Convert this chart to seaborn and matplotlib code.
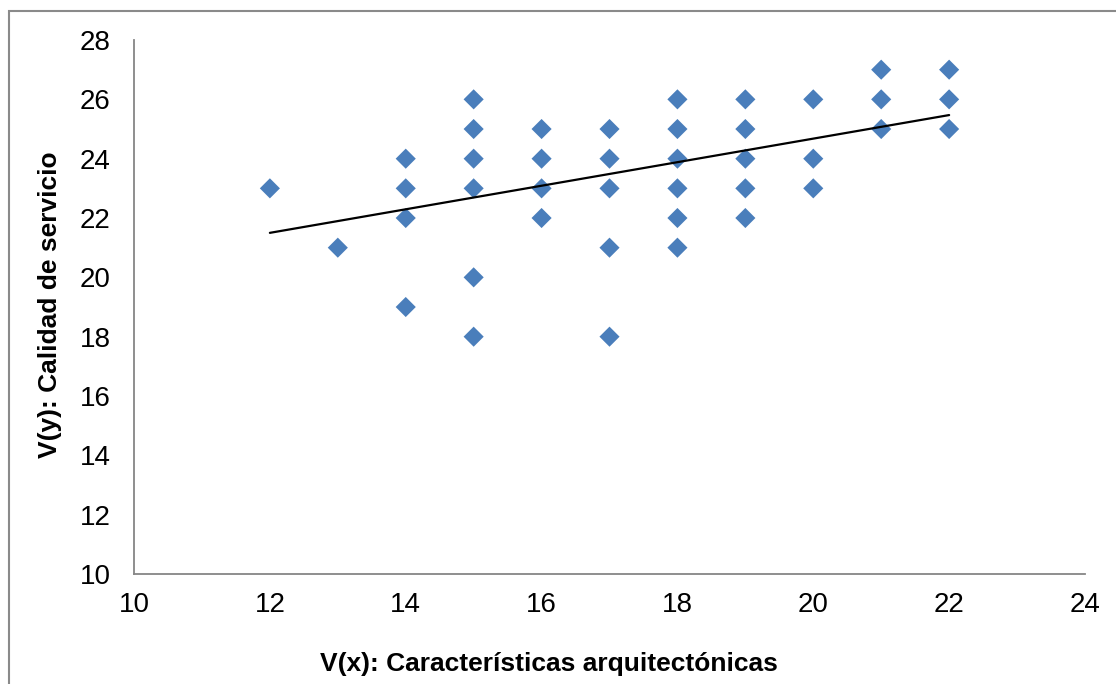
import matplotlib
matplotlib.use("Agg")
import matplotlib.pyplot as plt
import seaborn as sns
import pandas as pd

# scatter values
x_vals = [12,
          13,
          14, 14, 14, 14,
          15, 15, 15, 15, 15, 15,
          16, 16, 16, 16,
          17, 17, 17, 17, 17,
          18, 18, 18, 18, 18, 18,
          19, 19, 19, 19, 19,
          20, 20, 20,
          21, 21, 21,
          22, 22, 22]
y_vals = [23,
          21,
          24, 23, 22, 19,
          26, 25, 24, 23, 20, 18,
          25, 24, 23, 22,
          25, 24, 23, 21, 18,
          26, 25, 24, 23, 22, 21,
          26, 25, 24, 23, 22,
          26, 24, 23,
          27, 26, 25,
          27, 26, 25]

# linear trendline end points
trend_x = [12, 22]
trend_y = [21.5, 25.47]

x_ticks = [10, 12, 14, 16, 18, 20, 22, 24]
y_ticks = [10, 12, 14, 16, 18, 20, 22, 24, 26, 28]

sns.set_theme(style="white")
plt.rcParams['font.family'] = ['Liberation Sans', 'DejaVu Sans']
plt.rcParams['text.color'] = 'black'
plt.rcParams['axes.labelcolor'] = 'black'

df = pd.DataFrame({'x': x_vals, 'y': y_vals})
trend = pd.DataFrame({'x': trend_x, 'y': trend_y})

fig = plt.figure(figsize=(11.16, 6.84), dpi=100)
ax = fig.add_axes([0.1201, 0.1608, 0.8521, 0.7807])

sns.scatterplot(data=df, x='x', y='y', marker='D', s=105, color='#4a7ebb',
                edgecolor='none', ax=ax, zorder=3)
sns.lineplot(data=trend, x='x', y='y', color='black', linewidth=1.6, ax=ax, zorder=4)

ax.set_xlim(10, 24)
ax.set_ylim(10, 28)
ax.set_xticks(x_ticks)
ax.set_yticks(y_ticks)
ax.tick_params(axis='both', length=0, labelsize=20, colors='black')
ax.tick_params(axis='y', pad=17)
ax.tick_params(axis='x', pad=13)

for side in ['top', 'right']:
    ax.spines[side].set_visible(False)
for side in ['left', 'bottom']:
    ax.spines[side].set_color('#868686')
    ax.spines[side].set_linewidth(1.3)

ax.set_xlabel('V(x): Características arquitectónicas', fontsize=19, fontweight='bold')
ax.set_ylabel('V(y): Calidad de servicio', fontsize=19, fontweight='bold')
ax.xaxis.label.set_va('center')
ax.yaxis.label.set_va('center')
ax.xaxis.set_label_coords((549 - 134) / 951, (574 - 664) / 534)
ax.yaxis.set_label_coords((50 - 134) / 951, (574 - 305) / 534)

# chart area border (cropped at right and bottom)
fig.patches.append(plt.Rectangle((9 / 1116, -0.05), 1.2, 1 - 11 / 684 + 0.05,
                                 transform=fig.transFigure, fill=False,
                                 edgecolor='#8a8a8a', linewidth=1.5))

fig.savefig('out.png', dpi=100)
